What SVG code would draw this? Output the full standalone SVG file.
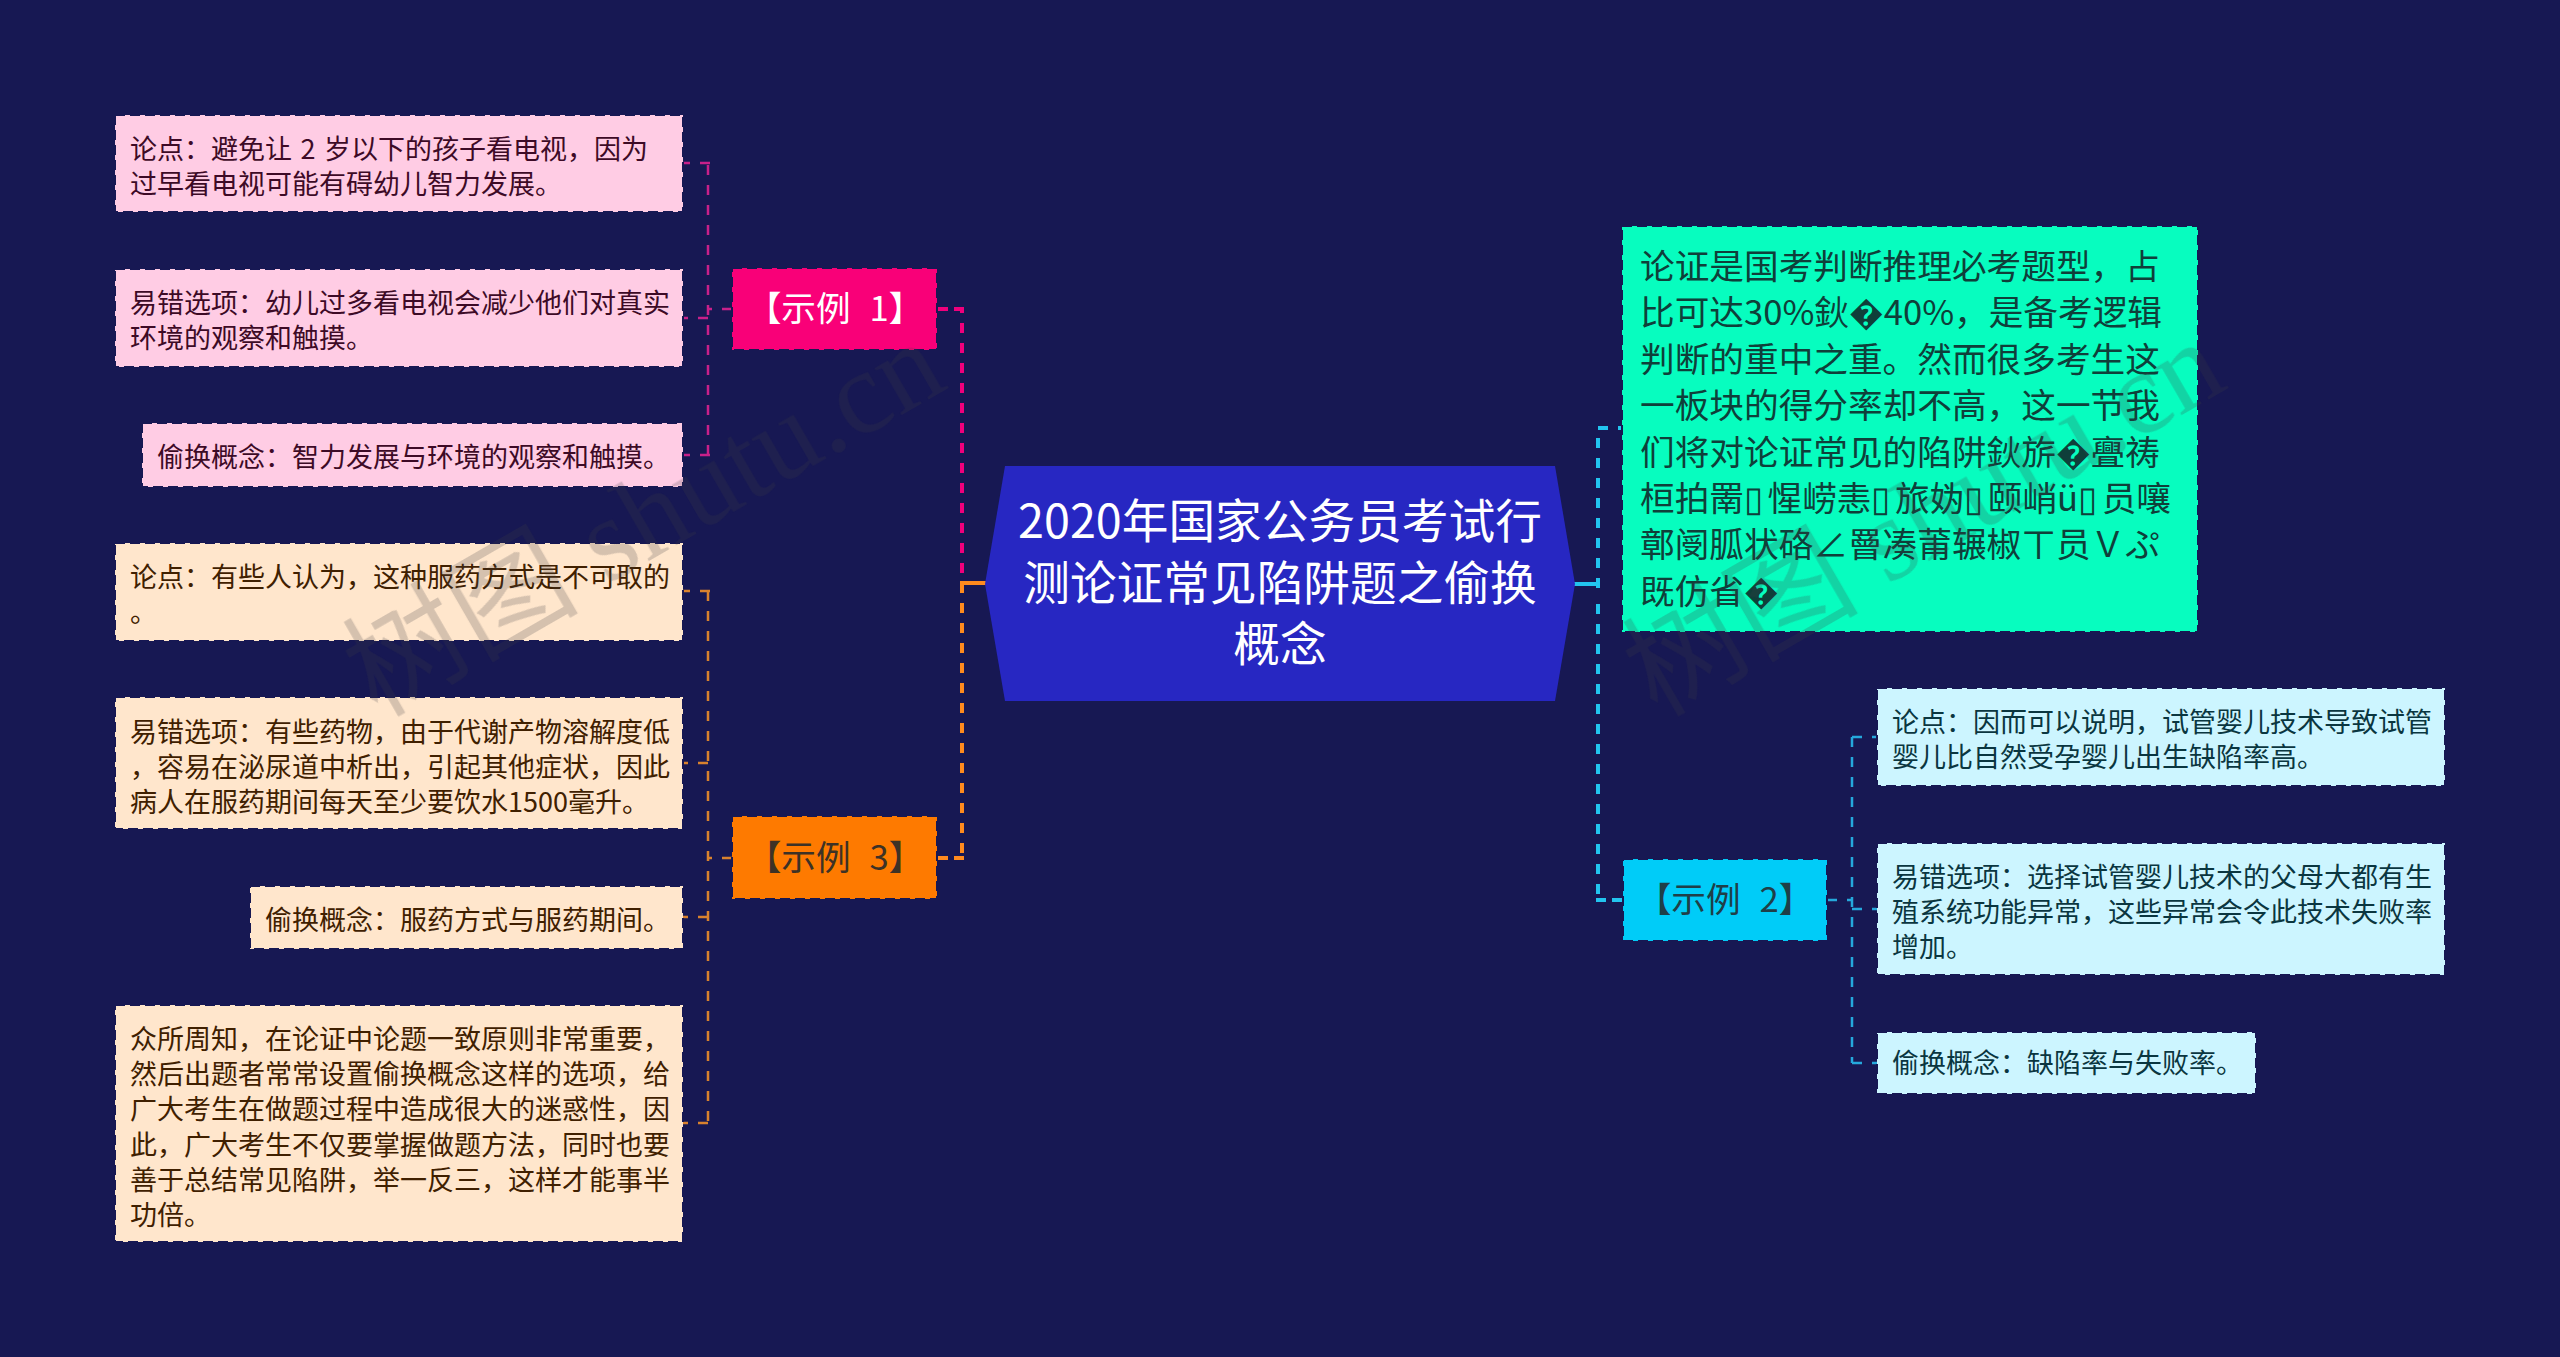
<svg xmlns="http://www.w3.org/2000/svg" width="2560" height="1357" viewBox="0 0 2560 1357">
<style>
text{font-family:"Noto Sans CJK SC","Noto Sans",sans-serif}
.bd{stroke:#171853;stroke-width:2;stroke-dasharray:10 5}
.leaf{font-size:27px;word-spacing:2.5px}
.pk{fill:#ffcce4}.pkt{fill:#3d0a26}
.pe{fill:#ffe6cc}.pet{fill:#402000}
.cy{fill:#ccf5ff}.cyt{fill:#0a3640}
.t1{font-size:34.67px;text-anchor:middle;word-spacing:11px}
.tf{letter-spacing:4.5px}
.c{fill:none;stroke-dasharray:10 10}
.l1{stroke-width:4}.l2{stroke-width:2.5}
.wm{fill:#3f3f46;opacity:.22}
.wm text{font-family:"Liberation Serif","Noto Sans CJK SC",serif;font-size:118px}
</style>
<rect width="2560" height="1357" fill="#171853"/>
<g id="connectors">
<path class="c l1" stroke="#f0007c" d="M962,573V309"/>
<path class="l1" fill="none" stroke="#f0007c" stroke-dasharray="10 6" d="M964,309H937"/>
<path class="c l1" stroke="#ff8a1e" d="M962,583V858"/>
<path class="l1" fill="none" stroke="#ff8a1e" stroke-dasharray="10 6" d="M964,858H937"/>
<path class="l1" fill="none" stroke="#ff8a1e" d="M960,583H987"/>
<path class="c l1" stroke="#22c4ef" d="M1598,588V428H1623"/>
<path class="c l1" stroke="#22c4ef" d="M1598,604V900"/>
<path class="l1" fill="none" stroke="#22c4ef" stroke-dasharray="10 6" d="M1596,900H1623"/>
<path class="l1" fill="none" stroke="#22c4ef" d="M1573,584H1600"/>
<g stroke="#c8208a">
<path class="c l2" d="M708,455V163"/>
<path class="c l2" d="M732,309H708"/>
<path class="c l2" d="M708,318H683"/>
<path class="c l2" d="M710,163H683"/>
<path class="c l2" d="M710,455H683"/>
</g>
<g stroke="#d9822e">
<path class="c l2" d="M708,591V1123"/>
<path class="c l2" d="M732,858H708"/>
<path class="c l2" d="M710,591H683"/>
<path class="c l2" d="M708,763H683"/>
<path class="c l2" d="M708,917H683"/>
<path class="c l2" d="M708,1123H683"/>
</g>
<g stroke="#25a8dc">
<path class="c l2" d="M1852,737V1063"/>
<path class="c l2" d="M1827,900H1852"/>
<path class="c l2" d="M1852,737H1877"/>
<path class="c l2" d="M1852,909H1877"/>
<path class="c l2" d="M1852,1063H1877"/>
</g>
</g>
<g id="root">
<polygon points="985,584 1005,466 1555,466 1575,584 1555,701 1005,701" fill="#2727c2"/>
<text font-size="46.7" fill="#fff" text-anchor="middle"><tspan x="1280" y="538">2020年国家公务员考试行</tspan><tspan x="1280" y="600">测论证常见陷阱题之偷换</tspan><tspan x="1280" y="661">概念</tspan></text>
</g>
<g id="n-intro">
<rect class="bd" x="1622" y="226" width="576" height="406" fill="#07fdbf"/>
<text font-size="34.67" fill="#0f3f3a"><tspan x="1640" y="279">论证是国考判断推理必考题型，占</tspan><tspan x="1640" y="325.4">比可达30%鈥�40%，是备考逻辑</tspan><tspan x="1640" y="371.8">判断的重中之重。然而很多考生这</tspan><tspan x="1640" y="418.2">一板块的得分率却不高，这一节我</tspan><tspan x="1640" y="464.6">们将对论证常见的陷阱鈥旂�亹祷</tspan><tspan x="1640" y="511">桓拍罱<tspan class="tf">▯</tspan>惺崂恚<tspan class="tf">▯</tspan>旅妫<tspan class="tf">▯</tspan>颐峭ü<tspan class="tf">▯</tspan>员嚷</tspan><tspan x="1640" y="557.4">鄣阌胍状硌∠罾凑莆辗椒ㄒ员Ｖぷ</tspan><tspan x="1640" y="603.8">既仿省�</tspan></text>
</g>
<g id="n-ex1">
<rect class="bd" x="732" y="268" width="205" height="82" fill="#f90078"/>
<text class="t1" x="835" y="321" fill="#fff">【示例 1】</text>
</g>
<g id="n-ex3">
<rect class="bd" x="732" y="816" width="205" height="83" fill="#fe7a00"/>
<text class="t1" x="835" y="870" fill="#3d3226">【示例 3】</text>
</g>
<g id="n-ex2">
<rect class="bd" x="1623" y="859" width="204" height="82" fill="#00ccf8"/>
<text class="t1" x="1725" y="912" fill="#1f3f48">【示例 2】</text>
</g>
<g id="l1">
<rect class="bd pk" x="115" y="115" width="568" height="97"/>
<text class="leaf pkt"><tspan x="130" y="159">论点：避免让 2 岁以下的孩子看电视，因为</tspan><tspan x="130" y="194.2">过早看电视可能有碍幼儿智力发展。</tspan></text>
</g>
<g id="l2">
<rect class="bd pk" x="115" y="269" width="568" height="98"/>
<text class="leaf pkt"><tspan x="130" y="313">易错选项：幼儿过多看电视会减少他们对真实</tspan><tspan x="130" y="348.2">环境的观察和触摸。</tspan></text>
</g>
<g id="l3">
<rect class="bd pk" x="142" y="423" width="541" height="64"/>
<text class="leaf pkt"><tspan x="157" y="466.5">偷换概念：智力发展与环境的观察和触摸。</tspan></text>
</g>
<g id="l4">
<rect class="bd pe" x="115" y="543" width="568" height="98"/>
<text class="leaf pet"><tspan x="130" y="587">论点：有些人认为，这种服药方式是不可取的</tspan><tspan x="130" y="622.2">。</tspan></text>
</g>
<g id="l5">
<rect class="bd pe" x="115" y="697" width="568" height="132"/>
<text class="leaf pet"><tspan x="130" y="742">易错选项：有些药物，由于代谢产物溶解度低</tspan><tspan x="130" y="777.2">，容易在泌尿道中析出，引起其他症状，因此</tspan><tspan x="130" y="812.4">病人在服药期间每天至少要饮水1500毫升。</tspan></text>
</g>
<g id="l6">
<rect class="bd pe" x="250" y="886" width="433" height="63"/>
<text class="leaf pet"><tspan x="265" y="929.5">偷换概念：服药方式与服药期间。</tspan></text>
</g>
<g id="l7">
<rect class="bd pe" x="115" y="1005" width="568" height="237"/>
<text class="leaf pet"><tspan x="130" y="1049">众所周知，在论证中论题一致原则非常重要，</tspan><tspan x="130" y="1084.2">然后出题者常常设置偷换概念这样的选项，给</tspan><tspan x="130" y="1119.4">广大考生在做题过程中造成很大的迷惑性，因</tspan><tspan x="130" y="1154.6">此，广大考生不仅要掌握做题方法，同时也要</tspan><tspan x="130" y="1189.8">善于总结常见陷阱，举一反三，这样才能事半</tspan><tspan x="130" y="1225">功倍。</tspan></text>
</g>
<g id="r1">
<rect class="bd cy" x="1877" y="688" width="568" height="98"/>
<text class="leaf cyt"><tspan x="1892" y="732">论点：因而可以说明，试管婴儿技术导致试管</tspan><tspan x="1892" y="767.2">婴儿比自然受孕婴儿出生缺陷率高。</tspan></text>
</g>
<g id="r2">
<rect class="bd cy" x="1877" y="843" width="568" height="132"/>
<text class="leaf cyt"><tspan x="1892" y="887">易错选项：选择试管婴儿技术的父母大都有生</tspan><tspan x="1892" y="922.2">殖系统功能异常，这些异常会令此技术失败率</tspan><tspan x="1892" y="957.4">增加。</tspan></text>
</g>
<g id="r3">
<rect class="bd cy" x="1877" y="1032" width="379" height="62"/>
<text class="leaf cyt"><tspan x="1892" y="1073">偷换概念：缺陷率与失败率。</tspan></text>
</g>
<g class="wm">
<text transform="translate(377,718) rotate(-30)">树图 shutu.cn</text>
<text transform="translate(1657,718) rotate(-30)">树图 shutu.cn</text>
</g>
</svg>
